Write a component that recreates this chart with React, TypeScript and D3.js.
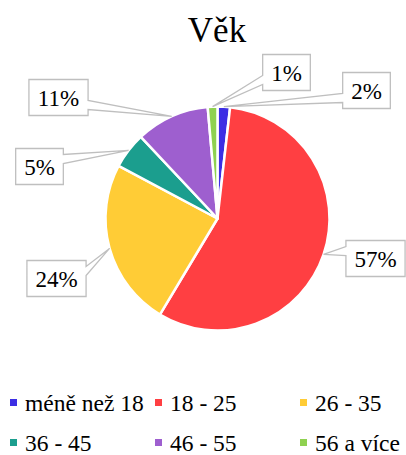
import React from 'react';
import * as d3 from 'd3';

// chart data
const title = 'Věk';
const categories = ['méně než 18', '18 - 25', '26 - 35', '36 - 45', '46 - 55', '56 a více'];
const shares = [1.8, 56.8, 24.2, 5.2, 10.6, 1.4];
const colors = ['#3c2ee4', '#ff3f42', '#ffcc36', '#1b9e8e', '#9e5fcf', '#8fd150'];

// where each data label callout sits, relative to the pie centre
const labelOffsets = [
  [149, -128],
  [158, 40],
  [-161, 60],
  [-178, -52],
  [-159, -121],
  [69, -146],
];

const WIDTH = 406;
const HEIGHT = 455;
const FONT = "'Times New Roman', 'Liberation Serif', 'Tinos', 'Nimbus Roman', 'FreeSerif'";
const LABEL_SIZE = 23;

// rectangle callout with a wedge pointer (same geometry as Office's wedgeRectCallout)
function calloutPath(l, t, r, b, xPos, yPos) {
  const w = r - l;
  const h = b - t;
  const hc = l + w / 2;
  const vc = t + h / 2;
  const dx = xPos - hc;
  const dy = yPos - vc;
  const dz = Math.abs(dy) - Math.abs((dx * h) / w);
  const x1 = l + (w * (dx > 0 ? 7 : 2)) / 12;
  const x2 = l + (w * (dx > 0 ? 10 : 5)) / 12;
  const y1 = t + (h * (dy > 0 ? 7 : 2)) / 12;
  const y2 = t + (h * (dy > 0 ? 10 : 5)) / 12;
  const pts = [[l, t]];
  if (dz > 0 && dy < 0) pts.push([x1, t], [xPos, yPos], [x2, t]);
  pts.push([r, t]);
  if (dz <= 0 && dx > 0) pts.push([r, y1], [xPos, yPos], [r, y2]);
  pts.push([r, b]);
  if (dz > 0 && dy > 0) pts.push([x2, b], [xPos, yPos], [x1, b]);
  pts.push([l, b]);
  if (dz <= 0 && dx < 0) pts.push([l, y2], [xPos, yPos], [l, y1]);
  return 'M' + pts.map(p => p.join(',')).join('L') + 'Z';
}

// width of a "NN%" label in Times metrics (digits 0.5em, % 0.833em)
const labelWidth = (s) => LABEL_SIZE * ((s.length - 1) * 0.5 + 0.833);

const Label = ({ x, y, size, anchor, children }) => (
  <text
    x={x}
    y={y}
    dy="0.35em"
    textAnchor={anchor}
    fontSize={size}
    fontFamily={FONT}
    fill="#000"
    style={{ fontFamily: FONT }}
  >
    {children}
  </text>
);

const App = () => {
  const cx = 217.5;
  const cy = 218.5;
  const radius = 112;

  const data = categories.map((c, i) => ({ name: c, value: shares[i], color: colors[i] }));
  const total = d3.sum(shares);
  const arcs = d3.pie().sort(null).value(d => d.value)(data);
  const arc = d3.arc().innerRadius(0).outerRadius(radius);

  const colX = d3.scalePoint().domain([0, 1, 2]).range([10, 300]);
  const rowY = d3.scalePoint().domain([0, 1]).range([403, 443]);

  return (
    <svg width={WIDTH} height={HEIGHT} style={{ position: 'absolute', left: 0, top: 0 }}>
      <Label x={217} y={30} size={35} anchor="middle">{title}</Label>

      <g transform={`translate(${cx},${cy})`}>
        {arcs.map((a, i) => (
          <path
            key={i}
            d={arc(a)}
            fill={a.data.color}
            stroke="#fff"
            strokeWidth={2.5}
            strokeLinejoin="round"
          />
        ))}
      </g>

      {arcs.map((a, i) => {
        const mid = (a.startAngle + a.endAngle) / 2;
        const tipX = cx + radius * Math.sin(mid);
        const tipY = cy - radius * Math.cos(mid);
        const lx = cx + labelOffsets[i][0];
        const ly = cy + labelOffsets[i][1];
        const txt = Math.round((a.data.value / total) * 100) + '%';
        const bw = labelWidth(txt) + 17;
        const bh = 36;
        return (
          <g key={i}>
            <path
              d={calloutPath(lx - bw / 2, ly - bh / 2, lx + bw / 2, ly + bh / 2, tipX, tipY)}
              fill="#fff"
              stroke="#bfbfbf"
              strokeWidth={1.3}
            />
            <Label x={lx} y={ly} size={LABEL_SIZE} anchor="middle">{txt}</Label>
          </g>
        );
      })}

      {data.map((d, i) => {
        const x = colX(i % 3);
        const y = rowY(Math.floor(i / 3));
        return (
          <g key={d.name}>
            <rect x={x} y={y - 4} width={7} height={7} fill={d.color} />
            <Label x={x + 15} y={y} size={23.5} anchor="start">{d.name}</Label>
          </g>
        );
      })}
    </svg>
  );
};

export default App;
